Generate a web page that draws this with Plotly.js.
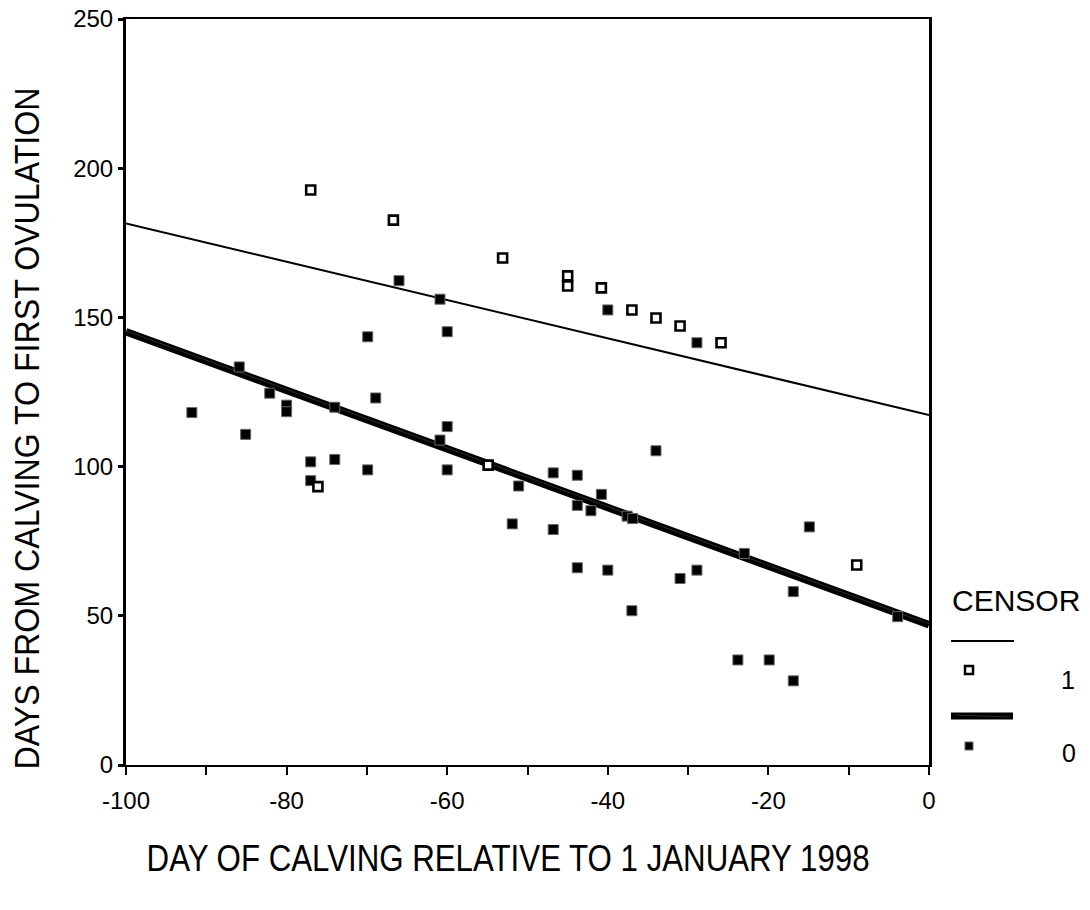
<!DOCTYPE html>
<html>
<head>
<meta charset="utf-8">
<script src="https://cdn.plot.ly/plotly-3.0.1.min.js"></script>
<style>
  html, body { margin: 0; padding: 0; background: #ffffff; }
  #chart { width: 1090px; height: 910px; }
</style>
</head>
<body>
<div id="chart"></div>
<script>
// ---- Data ----
// CENSOR = 1 (open squares)
const censor1X = [-77.0, -66.7, -53.1, -45.0, -45.0, -40.8, -37.0, -34.0, -31.0, -25.9, -76.1, -54.9, -9.0];
const censor1Y = [192.7, 182.6, 169.9, 163.9, 160.5, 159.9, 152.5, 149.8, 147.1, 141.5, 93.3, 100.5, 67.0];

// CENSOR = 0 (filled squares)
const censor0X = [-66.0, -60.9, -60.0, -69.9, -85.9, -82.1, -68.9, -40.0, -28.9, -91.8,
                  -85.1, -80.0, -80.0, -74.0, -60.0, -60.9, -77.0, -74.0, -69.9, -60.0,
                  -77.0, -51.1, -51.9, -46.8, -46.8, -43.8, -43.8, -40.8, -42.1, -37.6,
                  -36.9, -34.0, -43.8, -40.0, -37.0, -31.0, -28.9, -23.0, -14.9, -16.9,
                  -3.9, -23.8, -19.9, -16.9];
const censor0Y = [162.3, 156.1, 145.2, 143.5, 133.4, 124.6, 123.0, 152.5, 141.5, 118.1,
                  110.8, 120.6, 118.4, 119.9, 113.4, 108.9, 101.6, 102.4, 98.9, 98.9,
                  95.3, 93.5, 80.8, 97.9, 78.9, 97.1, 87.0, 90.7, 85.2, 83.4,
                  82.6, 105.3, 66.1, 65.3, 51.7, 62.5, 65.3, 70.9, 79.8, 58.1,
                  49.7, 35.2, 35.2, 28.2];

// Fitted lines (end points)
const fitX = [-100, 0];
const fit1Y = [181.5, 117.3];
const fit0Y = [145.2, 47.0];

const xTickVals = [-100, -80, -60, -40, -20, 0];
const xTickText = ['-100', '-80', '-60', '-40', '-20', '0'];
const yTickVals = [0, 50, 100, 150, 200, 250];
const yTickText = ['0', '50', '100', '150', '200', '250'];

const legendTitle = 'CENSOR';
const legendLabels = ['1', '0'];
const xTitle = 'DAY OF CALVING RELATIVE TO 1 JANUARY 1998';
const yTitle = 'DAYS FROM CALVING TO FIRST OVULATION';

// ---- geometry helpers (pixel -> paper) ----
const W = 1090, H = 910;
const L = 126, R = 929, T = 19, B = 765;
const px = p => (p - L) / (R - L);
const py = p => (B - p) / (B - T);

const FONT = '"Liberation Sans Narrow", "Arial Narrow", "Liberation Sans", Arial, sans-serif';
const TICKFONT = '"Liberation Sans", Arial, sans-serif';

const traces = [
  { x: fitX, y: fit1Y, mode: 'lines', line: { color: '#000', width: 2 }, showlegend: false, hoverinfo: 'skip' },
  { x: fitX, y: fit0Y, mode: 'lines', line: { color: '#000', width: 7.5 }, showlegend: false, hoverinfo: 'skip' },
  { x: fitX, y: fit0Y.map(v => v + 0.3), mode: 'lines', line: { color: '#555', width: 0.5 }, showlegend: false, hoverinfo: 'skip' },
  { x: censor0X, y: censor0Y, mode: 'markers', showlegend: false,
    marker: { symbol: 'square', size: 10, color: '#000', line: { color: '#666', width: 1 } } },
  { x: censor1X, y: censor1Y, mode: 'markers', showlegend: false,
    marker: { symbol: 'square', size: 9, color: '#fff', line: { color: '#000', width: 2.6 } } }
];

const shapes = [
  // legend keys
  { type: 'line', xref: 'paper', yref: 'paper', x0: px(951), x1: px(1014), y0: py(641), y1: py(641), line: { color: '#000', width: 2 } },
  { type: 'rect', xref: 'paper', yref: 'paper', x0: px(965), x1: px(973), y0: py(666), y1: py(674), fillcolor: '#fff', line: { color: '#000', width: 2.5 } },
  { type: 'line', xref: 'paper', yref: 'paper', x0: px(951), x1: px(1013), y0: py(716), y1: py(716), line: { color: '#000', width: 7 } },
  { type: 'line', xref: 'paper', yref: 'paper', x0: px(955), x1: px(1010), y0: py(715), y1: py(717), line: { color: '#555', width: 0.5 } },
  { type: 'rect', xref: 'paper', yref: 'paper', x0: px(965), x1: px(973), y0: py(742), y1: py(750), fillcolor: '#000', line: { color: '#666', width: 1 } }
];

const annotations = [
  { text: xTitle, xref: 'paper', yref: 'paper', x: px(508), y: py(858), showarrow: false,
    xanchor: 'center', yanchor: 'middle', font: { family: FONT, size: 37, color: '#000' } },
  { text: yTitle, xref: 'paper', yref: 'paper', x: px(27), y: py(429), showarrow: false, textangle: -90,
    xanchor: 'center', yanchor: 'middle', font: { family: FONT, size: 35, color: '#000' } },
  { text: legendTitle, xref: 'paper', yref: 'paper', x: px(1016), y: py(600), showarrow: false,
    xanchor: 'center', yanchor: 'middle', font: { family: TICKFONT, size: 30, color: '#000' } },
  { text: legendLabels[0], xref: 'paper', yref: 'paper', x: px(1068), y: py(680), showarrow: false,
    xanchor: 'center', yanchor: 'middle', font: { family: TICKFONT, size: 25, color: '#000' } },
  { text: legendLabels[1], xref: 'paper', yref: 'paper', x: px(1069), y: py(753), showarrow: false,
    xanchor: 'center', yanchor: 'middle', font: { family: TICKFONT, size: 25, color: '#000' } }
];

const layout = {
  width: W, height: H,
  margin: { l: L, r: W - R, t: T, b: H - B, pad: 0 },
  paper_bgcolor: '#fff', plot_bgcolor: '#fff',
  showlegend: false,
  hovermode: false,
  xaxis: {
    range: [-100, 0], tickvals: xTickVals, ticktext: xTickText,
    showgrid: false, zeroline: false, showline: true, linecolor: '#000', linewidth: 2, mirror: true,
    ticks: 'outside', ticklen: 8, tickwidth: 2, tickcolor: '#000',
    minor: { dtick: 10, tick0: 0, ticks: 'outside', ticklen: 8, tickwidth: 2, tickcolor: '#000', showgrid: false },
    tickfont: { family: TICKFONT, size: 24, color: '#000' },
    ticklabelstandoff: 5
  },
  yaxis: {
    range: [0, 250], tickvals: yTickVals, ticktext: yTickText,
    showgrid: false, zeroline: false, showline: true, linecolor: '#000', linewidth: 3, mirror: true,
    ticks: 'outside', ticklen: 5, tickwidth: 3, tickcolor: '#000',
    tickfont: { family: TICKFONT, size: 24, color: '#000' }
  },
  shapes: shapes,
  annotations: annotations
};

Plotly.newPlot('chart', traces, layout, { displayModeBar: false, staticPlot: true }).then(() => {
  const targets = [[xTitle, 723], [yTitle, 682]];
  document.querySelectorAll('.annotation-text').forEach(el => {
    targets.forEach(([t, len]) => {
      if (el.textContent === t) {
        el.setAttribute('textLength', len);
        el.setAttribute('lengthAdjust', 'spacingAndGlyphs');
      }
    });
  });
});
</script>
</body>
</html>
